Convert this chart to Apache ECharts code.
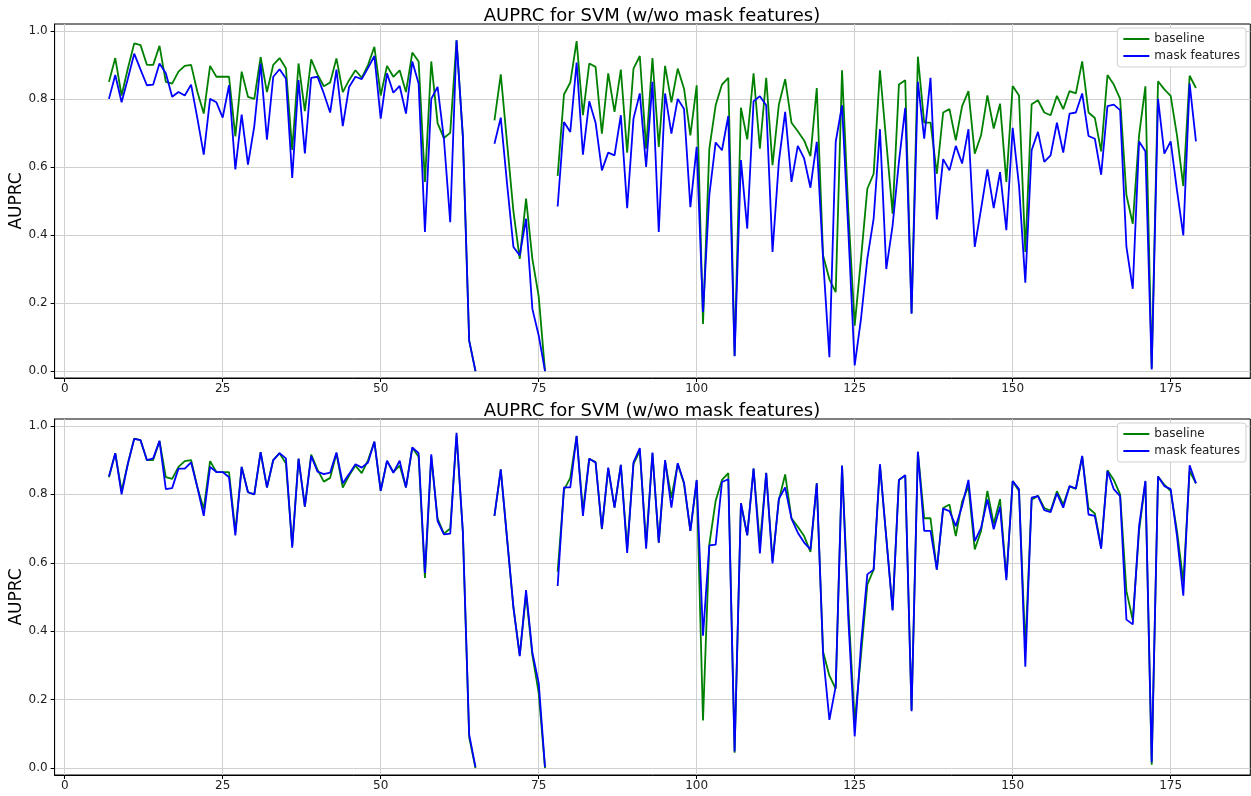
<!DOCTYPE html>
<html><head><meta charset="utf-8">
<script src="https://cdn.jsdelivr.net/npm/echarts@6/dist/echarts.min.js"></script>
<style>html,body{margin:0;padding:0;background:#fff}#c{width:1251px;height:796px}</style>
</head><body><div id="c"></div>
<script>
const xs = [7,8,9,10,11,12,13,14,15,16,17,18,19,20,21,22,23,24,25,26,27,28,29,30,31,32,33,34,35,36,37,38,39,40,41,42,43,44,45,46,47,48,49,50,51,52,53,54,55,56,57,58,59,60,61,62,63,64,65,66,67,68,69,70,71,72,73,74,75,76,77,78,79,80,81,82,83,84,85,86,87,88,89,90,91,92,93,94,95,96,97,98,99,100,101,102,103,104,105,106,107,108,109,110,111,112,113,114,115,116,117,118,119,120,121,122,123,124,125,126,127,128,129,130,131,132,133,134,135,136,137,138,139,140,141,142,143,144,145,146,147,148,149,150,151,152,153,154,155,156,157,158,159,160,161,162,163,164,165,166,167,168,169,170,171,172,173,174,175,176,177,178,179];

const baseline = [
0.85,0.92,0.81,0.89,0.963,0.958,0.90,0.90,0.956,0.85,
0.845,0.88,0.897,0.90,0.82,0.757,0.897,0.865,0.865,0.865,
0.69,0.88,0.806,0.80,0.923,0.82,0.90,0.92,0.89,0.65,
0.904,0.764,0.916,0.872,0.837,0.848,0.919,0.82,0.855,0.884,
0.862,0.90,0.953,0.81,0.897,0.865,0.884,0.82,0.936,0.91,
0.556,0.91,0.729,0.685,0.70,0.972,0.69,0.09,0.0,null,
null,0.737,0.872,0.67,0.47,0.33,0.507,0.33,0.22,0.0,
null,0.574,0.813,0.848,0.97,0.752,0.904,0.894,0.698,0.875,
0.762,0.886,0.642,0.889,0.926,0.654,0.92,0.659,0.897,0.79,
0.889,0.83,0.693,0.84,0.139,0.654,0.781,0.842,0.862,0.045,
0.774,0.681,0.875,0.654,0.862,0.605,0.783,0.858,0.73,0.705,
0.678,0.632,0.832,0.34,0.27,0.232,0.884,0.468,0.134,0.33,
0.536,0.58,0.884,0.674,0.463,0.842,0.855,0.17,0.924,0.73,
0.73,0.58,0.76,0.77,0.678,0.779,0.823,0.639,0.693,0.81,
0.713,0.786,0.556,0.838,0.81,0.35,0.784,0.796,0.76,0.752,
0.809,0.77,0.823,0.816,0.91,0.76,0.744,0.646,0.87,0.842,
0.80,0.517,0.433,0.693,0.837,0.01,0.852,0.828,0.809,0.693,
0.544,0.868,0.832];

const maskTop = [
0.80,0.87,0.79,0.86,0.933,0.886,0.84,0.842,0.904,0.875,
0.806,0.82,0.81,0.842,0.742,0.636,0.80,0.79,0.745,0.84,
0.593,0.754,0.607,0.72,0.904,0.68,0.865,0.887,0.86,0.568,
0.855,0.64,0.862,0.865,0.816,0.76,0.886,0.72,0.835,0.865,
0.858,0.891,0.926,0.742,0.875,0.818,0.838,0.757,0.91,0.845,
0.409,0.80,0.835,0.683,0.438,0.972,0.69,0.09,0.0,null,
null,0.668,0.745,0.55,0.365,0.34,0.448,0.183,0.105,0.0,
null,0.484,0.732,0.703,0.907,0.636,0.793,0.73,0.59,0.642,
0.634,0.752,0.479,0.742,0.816,0.60,0.85,0.409,0.816,0.698,
0.80,0.77,0.482,0.659,0.174,0.517,0.672,0.649,0.75,0.044,
0.62,0.419,0.793,0.808,0.781,0.35,0.615,0.762,0.556,0.662,
0.625,0.539,0.674,0.33,0.041,0.674,0.781,0.41,0.017,0.154,
0.33,0.448,0.711,0.30,0.428,0.615,0.774,0.169,0.85,0.683,
0.862,0.446,0.623,0.59,0.662,0.61,0.711,0.365,0.477,0.593,
0.479,0.585,0.414,0.715,0.546,0.26,0.649,0.703,0.615,0.634,
0.73,0.642,0.757,0.76,0.816,0.691,0.683,0.577,0.779,0.783,
0.767,0.365,0.242,0.675,0.646,0.005,0.80,0.639,0.675,0.531,
0.399,0.845,0.675];

const maskBottom = [
0.852,0.92,0.80,0.89,0.962,0.958,0.90,0.905,0.956,0.815,
0.818,0.875,0.875,0.893,0.82,0.737,0.88,0.865,0.865,0.85,
0.68,0.88,0.806,0.80,0.923,0.82,0.90,0.92,0.905,0.644,
0.904,0.764,0.912,0.866,0.859,0.863,0.922,0.832,0.859,0.888,
0.878,0.893,0.954,0.81,0.898,0.863,0.898,0.82,0.937,0.92,
0.57,0.917,0.722,0.683,0.685,0.98,0.69,0.098,0.003,null,
null,0.737,0.873,0.67,0.47,0.327,0.52,0.337,0.249,0.003,
null,0.532,0.82,0.82,0.971,0.737,0.904,0.893,0.70,0.878,
0.761,0.886,0.629,0.893,0.935,0.641,0.922,0.659,0.90,0.761,
0.891,0.834,0.693,0.842,0.387,0.651,0.653,0.836,0.844,0.049,
0.774,0.68,0.875,0.627,0.863,0.598,0.787,0.82,0.729,0.688,
0.659,0.639,0.832,0.332,0.141,0.239,0.883,0.434,0.093,0.36,
0.566,0.58,0.888,0.673,0.461,0.842,0.856,0.166,0.924,0.693,
0.693,0.58,0.758,0.751,0.707,0.766,0.842,0.663,0.702,0.785,
0.698,0.764,0.549,0.839,0.815,0.296,0.79,0.795,0.754,0.748,
0.803,0.761,0.824,0.817,0.912,0.741,0.737,0.641,0.868,0.815,
0.795,0.434,0.42,0.707,0.839,0.017,0.852,0.824,0.815,0.678,
0.504,0.885,0.832];

const xTicks = [0,25,50,75,100,125,150,175];
const yTicks = [0,0.2,0.4,0.6,0.8,1.0];
const titleText = 'AUPRC for SVM (w/wo mask features)';
const yName = 'AUPRC';
const seriesNames = ['baseline','mask features'];
const colors = ['#008000','#0000ff'];

function pairs(v){ return xs.map((x,i)=> v[i] === null ? [x,'-'] : [x, v[i]]); }

const FONT = 'DejaVu Sans';
const gridLine = {show:true, lineStyle:{color:'#d0d0d0', width:1}};

function makeX(gi){
  return {type:'value', gridIndex:gi, min:-1.6, max:187.6,
    axisLine:{show:true, onZero:false, lineStyle:{color:'#000', width:1}},
    axisTick:{show:true, inside:false, length:4, lineStyle:{color:'#000'}, customValues:xTicks},
    axisLabel:{customValues:xTicks, color:'#222', fontSize:12, margin:5, fontFamily:FONT},
    splitLine:gridLine};
}
function makeY(gi){
  return {type:'value', gridIndex:gi, min:-0.02, max:1.02,
    name:yName, nameLocation:'middle', nameGap:30, nameRotate:90, nameMoveOverlap:false,
    nameTextStyle:{fontSize:17, color:'#000', fontFamily:FONT},
    axisLine:{show:true, onZero:false, lineStyle:{color:'#000', width:1}},
    axisTick:{show:true, inside:false, length:4, lineStyle:{color:'#000'}, customValues:yTicks},
    axisLabel:{customValues:yTicks, color:'#222', fontSize:12, margin:7, fontFamily:FONT,
      formatter:v=>Number(v).toFixed(1)},
    splitLine:gridLine};
}
function line(name, data, gi, color){
  return {type:'line', name:name, xAxisIndex:gi, yAxisIndex:gi, data:pairs(data),
    showSymbol:false, symbol:'none', connectNulls:false, animation:false,
    lineStyle:{color:color, width:1.8}, itemStyle:{color:color}};
}
function legend(top){
  return {orient:'vertical', right:5, top:top, data:seriesNames, icon:'rect',
    itemWidth:26, itemHeight:2, itemGap:5, padding:[5,6,5,6],
    backgroundColor:'#fff', borderColor:'#d0d0d0', borderWidth:1, borderRadius:3,
    textStyle:{fontSize:12, color:'#222', fontFamily:FONT}, selectedMode:false};
}

const chart = echarts.init(document.getElementById('c'), null, {renderer:'canvas'});
chart.setOption({
  animation:false,
  backgroundColor:'#fff',
  title:[
    {text:titleText, left:647, top:2, textAlign:'center', textStyle:{fontSize:18, fontWeight:'normal', color:'#000', fontFamily:FONT}},
    {text:titleText, left:647, top:397, textAlign:'center', textStyle:{fontSize:18, fontWeight:'normal', color:'#000', fontFamily:FONT}}
  ],
  legend:[legend(28), legend(423)],
  grid:[
    {left:54.6, width:1195.7, top:24, height:354, show:true, borderColor:'#000', borderWidth:1, outerBoundsMode:'none', containLabel:false},
    {left:54.6, width:1195.7, top:419, height:356, show:true, borderColor:'#000', borderWidth:1, outerBoundsMode:'none', containLabel:false}
  ],
  xAxis:[makeX(0), makeX(1)],
  yAxis:[makeY(0), makeY(1)],
  series:[
    line(seriesNames[0], baseline, 0, colors[0]),
    line(seriesNames[1], maskTop, 0, colors[1]),
    line(seriesNames[0], baseline, 1, colors[0]),
    line(seriesNames[1], maskBottom, 1, colors[1])
  ]
});
</script>
</body></html>
